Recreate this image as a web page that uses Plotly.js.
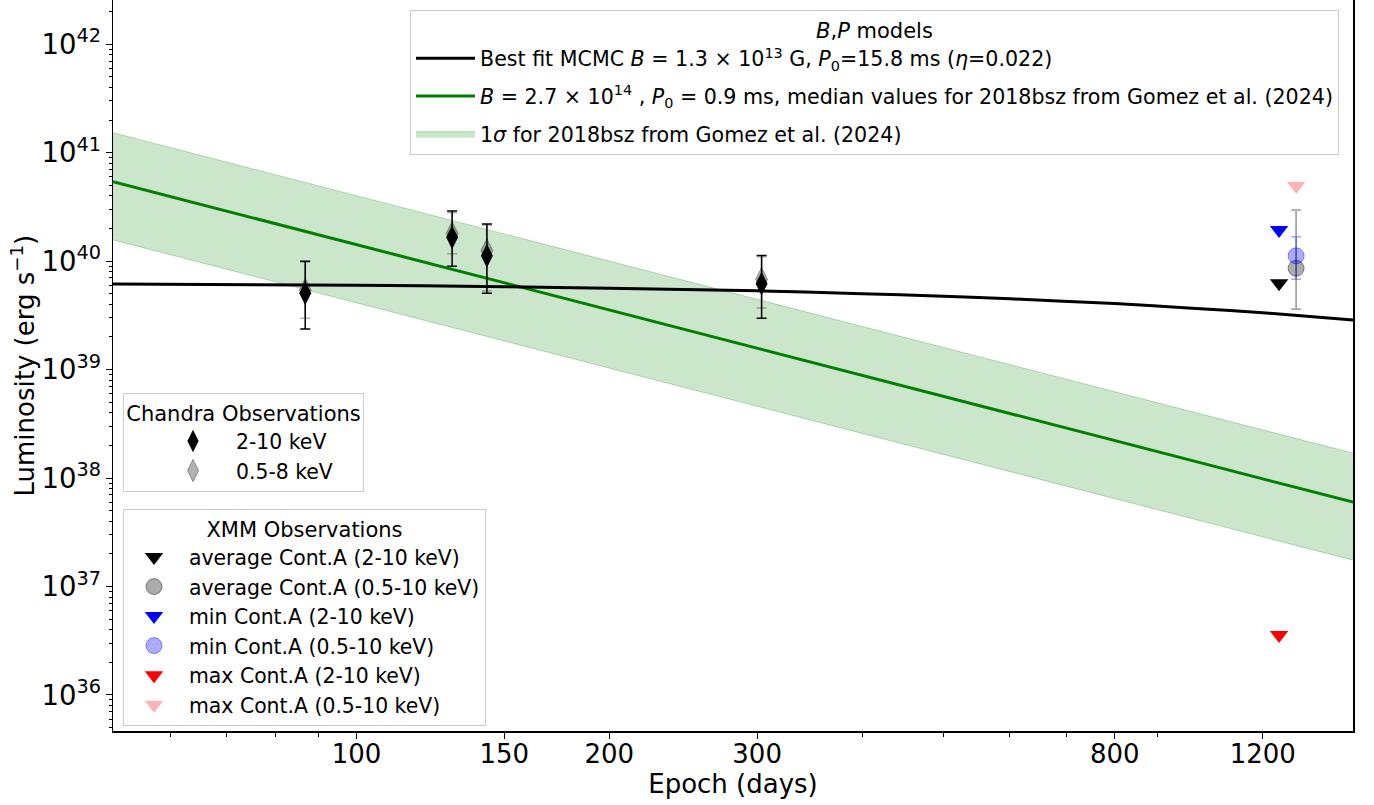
<!DOCTYPE html>
<html>
<head>
<meta charset="utf-8">
<script src="https://cdn.plot.ly/plotly-3.0.1.min.js"></script>
<style>html,body{margin:0;padding:0;background:#fff;}#chart{width:1374px;height:805px;}</style>
</head>
<body>
<div id="chart"></div>
<script>
// ---------------- data ----------------
// Model curves
const modelDays      = [51.3, 100, 150, 200, 300, 400, 500, 600, 800, 1000, 1200, 1537];
const bestFitLum     = [6.17e39, 6.0e39, 5.81e39, 5.62e39, 5.33e39, 5.01e39, 4.75e39, 4.5e39, 4.06e39, 3.67e39, 3.35e39, 2.87e39];
const gomezDays      = [51.3, 100, 300, 1000, 1537];
const gomezMedian    = [5.4e40, 1.42e40, 1.58e39, 1.42e38, 6.0e37];
const gomezUpper     = [1.53e41, 4.0e40, 4.45e39, 4.0e38, 1.7e38];
const gomezLower     = [1.57e40, 4.14e39, 4.6e38, 4.14e37, 1.75e37];

// Chandra observations
const chandraDays    = [86.9, 130, 143, 303.7];
const chandraHard    = [5.06e39, 1.66e40, 1.12e40, 6.2e39];   // 2-10 keV
const chandraHardUp  = [1.0e40, 2.9e40, 2.2e40, 1.13e40];
const chandraHardLo  = [2.37e39, 9.0e39, 5.06e39, 2.97e39];
const chandraSoft    = [5.4e39, 1.8e40, 1.25e40, 6.8e39];     // 0.5-8 keV
const chandraSoftUp  = [9.8e39, 2.8e40, 2.15e40, 1.1e40];
const chandraSoftLo  = [2.97e39, 1.17e40, 5.3e39, 3.7e39];

// XMM observations
const xmmDayHard     = [1255];
const xmmDaySoft     = [1315];
const xmmAvgHard     = [6.26e39];
const xmmAvgSoft     = [8.6e39];
const xmmAvgSoftUp   = [2.96e40];
const xmmAvgSoftLo   = [3.62e39];
const xmmMinHard     = [1.94e40];
const xmmMinSoft     = [1.12e40];
const xmmMinSoftUp   = [1.68e40];
const xmmMinSoftLo   = [6.8e39];
const xmmMaxHard     = [3.57e36];
const xmmMaxSoft     = [4.93e40];

// Axis ticks
const xTickVals  = [100, 150, 200, 300, 800, 1200];
const xTickText  = ['100', '150', '200', '300', '800', '1200'];
const xMinorVals = [60, 70, 80, 90, 400, 500, 600, 700, 900];

// ---------------- helpers ----------------
const up = (v, u) => u.map((x, i) => x - v[i]);
const dn = (v, l) => v.map((x, i) => x - l[i]);

const FONT = 'DejaVu Sans, Liberation Sans, sans-serif';

const traces = [
  // 1 sigma band
  {x: gomezDays, y: gomezLower, mode: 'lines', line: {color: 'rgba(0,128,0,0.25)', width: 1},
   showlegend: false, hoverinfo: 'skip', legend: 'legend'},
  {x: gomezDays, y: gomezUpper, mode: 'lines', fill: 'tonexty', fillcolor: 'rgba(0,128,0,0.2)',
   line: {color: 'rgba(0,128,0,0.25)', width: 1},
   name: '1<i>σ</i> for 2018bsz from Gomez et al. (2024)', legend: 'legend', legendrank: 3, legendgroup: 'g3'},
  // green median
  {x: gomezDays, y: gomezMedian, mode: 'lines', line: {color: 'green', width: 3},
   name: '<i>B</i> = 2.7 × 10<sup>14</sup> , <i>P</i><sub>0</sub> = 0.9 ms, median values for 2018bsz from Gomez et al. (2024)',
   legend: 'legend', legendrank: 2, legendgroup: 'g2'},
  // best fit
  {x: modelDays, y: bestFitLum, mode: 'lines', line: {color: 'black', width: 3, shape: 'spline', smoothing: 0.8},
   name: 'Best fit MCMC <i>B</i> = 1.3 × 10<sup>13</sup> G, <i>P</i><sub>0</sub>=15.8 ms (<i>η</i>=0.022)',
   legend: 'legend', legendrank: 1, legendgroup: 'g1'},
  // Chandra 0.5-8 (gray, behind)
  {x: chandraDays, y: chandraSoft, mode: 'markers', name: '0.5-8 keV', legend: 'legend2', legendrank: 2,
   marker: {symbol: 'diamond-tall', size: 17, color: 'rgba(0,0,0,0.3)', line: {color: 'rgba(0,0,0,0.35)', width: 1}},
   error_y: {type: 'data', symmetric: false, array: up(chandraSoft, chandraSoftUp), arrayminus: dn(chandraSoft, chandraSoftLo),
             color: 'rgba(0,0,0,0.3)', thickness: 1.5, width: 5}},
  // Chandra 2-10
  {x: chandraDays, y: chandraHard, mode: 'markers', name: '2-10 keV', legend: 'legend2', legendrank: 1,
   marker: {symbol: 'diamond-tall', size: 17, color: 'black'},
   error_y: {type: 'data', symmetric: false, array: up(chandraHard, chandraHardUp), arrayminus: dn(chandraHard, chandraHardLo),
             color: 'black', thickness: 1.5, width: 5}},
  // XMM
  {x: xmmDayHard, y: xmmAvgHard, mode: 'markers', name: 'average Cont.A (2-10 keV)', legend: 'legend3', legendrank: 1,
   marker: {symbol: 'triangle-down', size: 16, color: 'black'}},
  {x: xmmDaySoft, y: xmmAvgSoft, mode: 'markers', name: 'average Cont.A (0.5-10 keV)', legend: 'legend3', legendrank: 2,
   marker: {symbol: 'circle', size: 16, color: 'rgba(0,0,0,0.33)', line: {color: 'rgba(0,0,0,0.4)', width: 1}},
   error_y: {type: 'data', symmetric: false, array: up(xmmAvgSoft, xmmAvgSoftUp), arrayminus: dn(xmmAvgSoft, xmmAvgSoftLo),
             color: 'rgba(0,0,0,0.35)', thickness: 1.8, width: 5}},
  {x: xmmDayHard, y: xmmMinHard, mode: 'markers', name: 'min Cont.A (2-10 keV)', legend: 'legend3', legendrank: 3,
   marker: {symbol: 'triangle-down', size: 16, color: 'blue'}},
  {x: xmmDaySoft, y: xmmMinSoft, mode: 'markers', name: 'min Cont.A (0.5-10 keV)', legend: 'legend3', legendrank: 4,
   marker: {symbol: 'circle', size: 16, color: 'rgba(0,0,255,0.33)', line: {color: 'rgba(0,0,255,0.4)', width: 1}},
   error_y: {type: 'data', symmetric: false, array: up(xmmMinSoft, xmmMinSoftUp), arrayminus: dn(xmmMinSoft, xmmMinSoftLo),
             color: 'rgba(0,0,255,0.35)', thickness: 1.5, width: 5}},
  {x: xmmDayHard, y: xmmMaxHard, mode: 'markers', name: 'max Cont.A (2-10 keV)', legend: 'legend3', legendrank: 5,
   marker: {symbol: 'triangle-down', size: 16, color: 'red'}},
  {x: xmmDaySoft, y: xmmMaxSoft, mode: 'markers', name: 'max Cont.A (0.5-10 keV)', legend: 'legend3', legendrank: 6,
   marker: {symbol: 'triangle-down', size: 16, color: 'rgba(255,0,0,0.3)'}}
];

const legendBase = {
  xref: 'paper', yref: 'paper', xanchor: 'left', yanchor: 'top',
  bgcolor: 'rgba(255,255,255,0.85)', bordercolor: '#cccccc', borderwidth: 1,
  font: {family: FONT, size: 20.4, color: 'black'}
};

const layout = {
  width: 1374, height: 805,
  margin: {l: 113, r: 21, t: 0, b: 74},
  paper_bgcolor: 'white', plot_bgcolor: 'white',
  font: {family: FONT, color: 'black'},
  showlegend: true,
  xaxis: {
    type: 'log', range: [Math.log10(51.3), Math.log10(1537)],
    tickmode: 'array', tickvals: xTickVals, ticktext: xTickText,
    ticks: 'outside', ticklen: 6, tickwidth: 1, tickcolor: 'black',
    tickfont: {family: FONT, size: 26}, ticklabelstandoff: -7,
    showgrid: false, zeroline: false,
    showline: true, linecolor: 'black', linewidth: 1.5, mirror: true,
    minor: {tickmode: 'array', tickvals: xMinorVals, ticks: 'outside', ticklen: 4, tickcolor: 'black', showgrid: false},
    title: {text: 'Epoch (days)', font: {family: FONT, size: 26}, standoff: 6},
    automargin: false
  },
  yaxis: {
    type: 'log', range: [35.668, 42.408],
    dtick: 1, exponentformat: 'power', showexponent: 'all',
    ticks: 'outside', ticklen: 6, tickwidth: 1, tickcolor: 'black',
    tickfont: {family: FONT, size: 22},
    showgrid: false, zeroline: false,
    showline: true, linecolor: 'black', linewidth: 1.5, mirror: true,
    minor: {dtick: 'D1', ticks: 'outside', ticklen: 3, tickcolor: 'black', showgrid: false},
    automargin: false
  },
  annotations: [{
    text: 'Luminosity (erg s<sup>−1</sup>)', textangle: -90,
    xref: 'paper', yref: 'paper', x: -90 / 1240, y: 0.5,
    xanchor: 'center', yanchor: 'middle', showarrow: false,
    font: {family: FONT, size: 26, color: 'black'}
  }],
  legend: Object.assign({}, legendBase, {
    x: (410 - 113) / 1240, y: 1 - 10 / 731,
    font: {family: FONT, size: 20.6, color: 'black'},
    title: {text: '<i>B</i>,<i>P</i> models', side: 'top center', font: {family: FONT, size: 21}},
    traceorder: 'grouped', tracegroupgap: 8, itemwidth: 59
  }),
  legend2: Object.assign({}, legendBase, {
    x: (123 - 113) / 1240, y: 1 - 393 / 731,
    title: {text: 'Chandra Observations', side: 'top center', font: {family: FONT, size: 21}},
    indentation: 26, itemwidth: 76
  }),
  legend3: Object.assign({}, legendBase, {
    x: (123 - 113) / 1240, y: 1 - 509 / 731,
    title: {text: 'XMM Observations', side: 'top center', font: {family: FONT, size: 21}},
    indentation: -5, itemwidth: 60
  })
};

Plotly.newPlot('chart', traces, layout, {displayModeBar: false, staticPlot: true});
</script>
</body>
</html>
